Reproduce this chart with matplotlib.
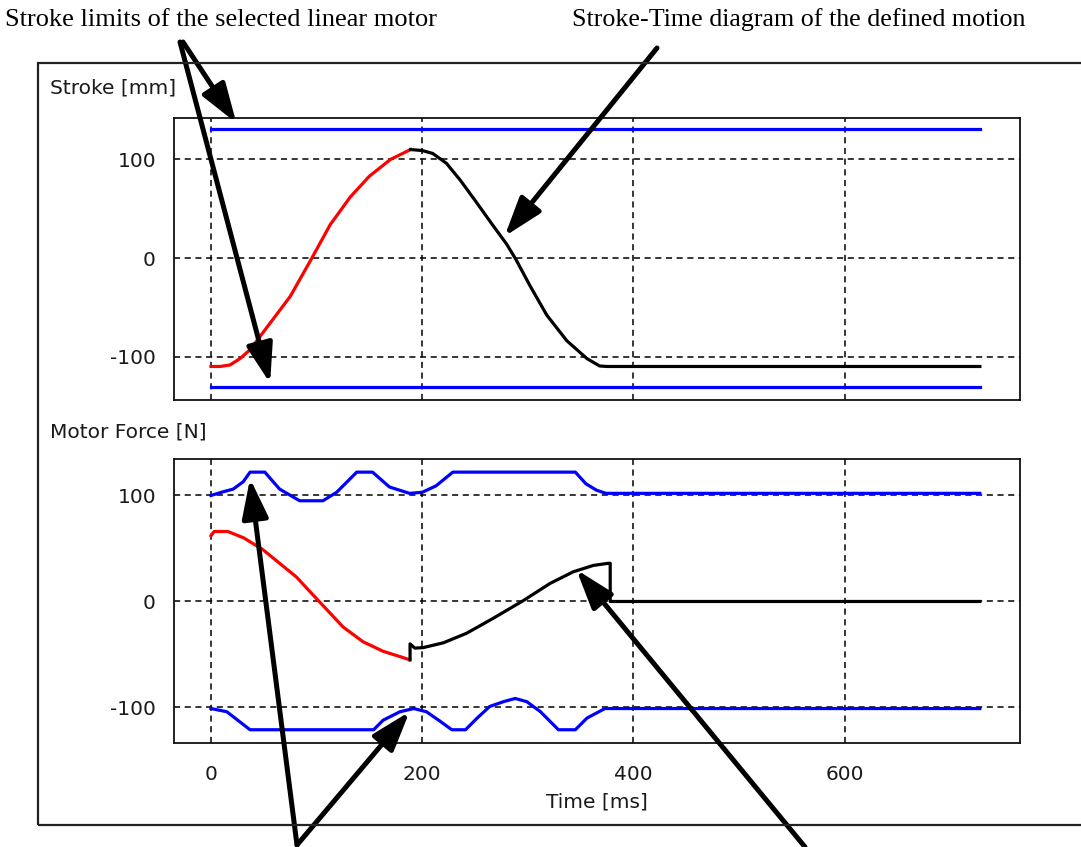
import matplotlib
matplotlib.use("Agg")
import matplotlib.pyplot as plt
from matplotlib.patches import Rectangle

plt.rcParams['axes.unicode_minus'] = False
plt.rcParams['font.family'] = 'DejaVu Sans'

# Stroke profile, time in ms, stroke in mm
stroke_acc_t = [0, 8.5, 18, 27.5, 37, 56, 75, 94, 113, 132, 150, 170, 189]
stroke_acc_v = [-110, -110, -108.5, -102, -93, -66, -39, -3, 34, 62, 83, 100, 110]
stroke_ret_t = [189, 200, 210, 223, 236, 251, 267, 280, 289, 302, 318, 337, 356, 368, 375, 728]
stroke_ret_v = [110, 109, 106, 96, 79, 57, 33, 14, -2, -28, -58, -84, -102, -109.5, -110, -110]
stroke_limit_t = [0, 728]
stroke_limit_hi = [131, 131]
stroke_limit_lo = [-131, -131]

# Motor force, N
force_acc_t = [0, 3, 16, 31, 49, 65, 81, 94, 110, 125, 144, 163, 179, 188]
force_acc_v = [62, 66, 66, 60, 49, 36, 23, 9, -8, -24, -38, -47, -52, -55]
force_ret_t = [188.5, 188.5, 193, 201, 220, 242, 267, 296, 321, 343, 362, 376, 378, 378, 728]
force_ret_v = [-55, -40, -44, -43.5, -39, -30, -16, 1, 17, 28, 34, 36, 36, 0, 0]
force_hi_t = [0, 11.7, 21, 30.6, 37, 51, 65, 84, 106, 119, 138, 153, 169, 188, 200, 213, 229,
              345, 355, 365, 374, 728]
force_hi_v = [100, 103.5, 106, 113, 122, 122, 106, 95, 95, 103, 122, 122, 108, 102, 103, 109, 122,
              122, 111, 105, 102, 102]
force_lo_t = [0, 15, 37, 154, 163, 179, 192, 204, 217, 228, 241, 252, 264, 277, 288, 299, 312,
              329, 345, 356, 373, 728]
force_lo_v = [-101, -104, -121, -121, -112, -104, -101, -104, -113, -121, -121, -110, -99, -94.5,
              -91.5, -94.5, -104, -121, -121, -110, -101, -101]

x_ticks = [0, 200, 400, 600]
y_ticks = [-100, 0, 100]

W, H = 1081, 847
fig = plt.figure(figsize=(W / 100, H / 100), dpi=100)

def fx(px):
    return px / W

def fy(py):
    return 1 - py / H

# panel frame around both plots
fig.patches.append(Rectangle((fx(38), fy(825)), 1.1, (825 - 63) / H, transform=fig.transFigure,
                             fill=False, lw=1.6, ec='#222222'))

ax1 = fig.add_axes([fx(174), fy(400), fx(1020) - fx(174), (400 - 118) / H])
ax2 = fig.add_axes([fx(174), fy(743), fx(1020) - fx(174), (743 - 459) / H])

lw = 2.3
ax1.plot(stroke_limit_t, stroke_limit_hi, color='#0000ff', lw=lw)
ax1.plot(stroke_limit_t, stroke_limit_lo, color='#0000ff', lw=lw)
ax1.plot(stroke_acc_t, stroke_acc_v, color='#ff0000', lw=lw)
ax1.plot(stroke_ret_t, stroke_ret_v, color='black', lw=lw)
ax1.set_ylim(-144, 142)

ax2.plot(force_hi_t, force_hi_v, color='#0000ff', lw=lw)
ax2.plot(force_lo_t, force_lo_v, color='#0000ff', lw=lw)
ax2.plot(force_acc_t, force_acc_v, color='#ff0000', lw=lw)
ax2.plot(force_ret_t, force_ret_v, color='black', lw=lw)
ax2.set_ylim(-133.5, 134.4)

for ax in (ax1, ax2):
    ax.set_xlim(-35, 766)
    ax.set_xticks(x_ticks)
    ax.set_yticks(y_ticks)
    ax.grid(True, color='black', linestyle=(0, (4, 3)), lw=1.1)
    ax.set_axisbelow(True)
    ax.tick_params(length=0, labelsize=14.5, colors='#1a1a1a')
    ax.tick_params(axis='y', pad=13)
    ax.tick_params(axis='x', pad=16)
    for s in ax.spines.values():
        s.set_linewidth(1.3)
        s.set_color('#111111')

ax1.set_xticklabels([])
ax2.set_xlabel('Time [ms]', fontsize=14.5, labelpad=6, color='#1a1a1a')

fig.text(fx(50), fy(88), 'Stroke [mm]', fontsize=14.5, va='center', color='#1a1a1a')
fig.text(fx(50), fy(432), 'Motor Force [N]', fontsize=14.5, va='center', color='#1a1a1a')

# callout captions
fig.text(fx(5), fy(20), 'Stroke limits of the selected linear motor', family='Liberation Serif',
         fontsize=19, va='center')
fig.text(fx(572), fy(20), 'Stroke-Time diagram of the defined motion', family='Liberation Serif',
         fontsize=18.7, va='center')

arrow = dict(arrowstyle='-|>,head_length=1.2,head_width=0.4', lw=3.6, color='black',
             mutation_scale=20, shrinkA=0, shrinkB=0)

def callout(ax, xy, tail):
    ax.annotate('', xy=xy, xycoords='data', xytext=(fx(tail[0]), fy(tail[1])),
                textcoords='figure fraction', arrowprops=arrow, annotation_clip=False)

callout(ax1, (24, 137), (183, 42))
callout(ax1, (56, -127), (180, 42))
callout(ax1, (278, 22), (657, 48))
callout(ax2, (37, 116), (297, 845))
callout(ax2, (188, -104), (297, 845))
callout(ax2, (346, 30), (805, 847))

fig.savefig('out.png', dpi=100, facecolor='white')
